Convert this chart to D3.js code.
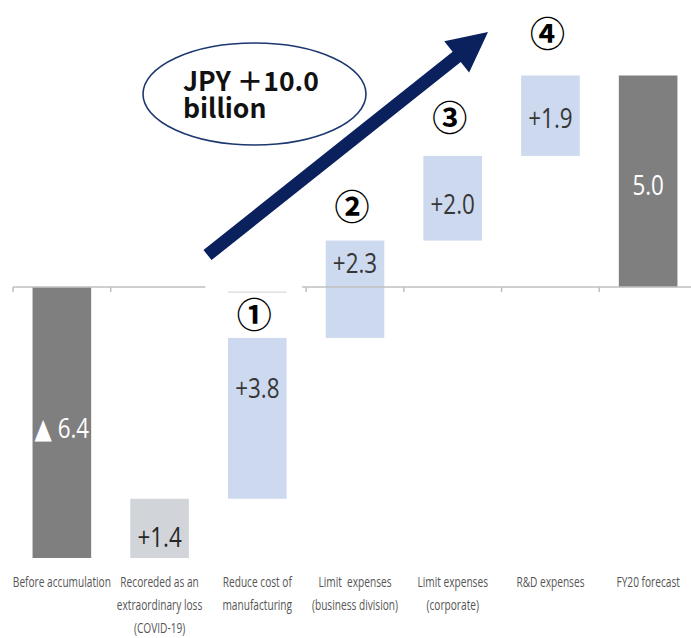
<!DOCTYPE html>
<html>
<head>
<meta charset="utf-8">
<script src="https://cdn.jsdelivr.net/npm/d3@7"></script>
<style>
  body { margin: 0; background: #fff; }
  svg { display: block; }
  .cat { white-space: pre; }
</style>
</head>
<body>
<svg id="chart" width="691" height="638"></svg>
<script>
// Operating profit bridge (JPY billion)
const categories = [
  ["Before accumulation"],
  ["Recoreded as an", "extraordinary loss", "(COVID-19)"],
  ["Reduce cost of", "manufacturing"],
  ["Limit  expenses", "(business division)"],
  ["Limit expenses", "(corporate)"],
  ["R&D expenses"],
  ["FY20 forecast"]
];
const values = [-6.4, 1.4, 3.8, 2.3, 2.0, 1.9, 5.0];
const kinds = ["total", "adjust", "saving", "saving", "saving", "saving", "total"];
const valueLabels = ["▲ 6.4", "+1.4", "+3.8", "+2.3", "+2.0", "+1.9", "5.0"];
const stepMarks = ["①", "②", "③", "④"];
const calloutLines = ["JPY ＋10.0", "billion"];

// running totals for the waterfall
let running = 0;
const bars = values.map((v, i) => {
  let from, to;
  if (kinds[i] === "total") { from = 0; to = v; running = v; }
  else { from = running; to = running + v; running = to; }
  return { i, v, from, to, kind: kinds[i], label: valueLabels[i], cat: categories[i] };
});

const W = 691, H = 638;
const svg = d3.select("#chart");
svg.append("rect").attr("width", W).attr("height", H).attr("fill", "#fff");

const x = d3.scaleBand()
  .domain(d3.range(categories.length))
  .range([13, 697])
  .paddingInner(0.4)
  .paddingOuter(0.2);

const lo = d3.min(bars, d => Math.min(d.from, d.to));
const hi = d3.max(bars, d => Math.max(d.from, d.to));
const y = d3.scaleLinear().domain([lo, hi]).range([558, 75.5]);

const fills = { total: "#7f7f7f", adjust: "#d1d4d8", saving: "#cdd9ee" };
const textFill = { total: "#ffffff", adjust: "#262626", saving: "#363636" };
// vertical nudge of the value text relative to the bar centre
const labelNudge = [4, 8, -31, -27, 5, 1.5, 3];

// bars
svg.append("g").selectAll("rect")
  .data(bars)
  .join("rect")
  .attr("x", d => x(d.i))
  .attr("width", x.bandwidth())
  .attr("y", d => y(Math.max(d.from, d.to)))
  .attr("height", d => Math.abs(y(d.from) - y(d.to)))
  .attr("fill", d => fills[d.kind]);

// zero line with category boundary ticks
const y0 = y(0);
const step = x.step();
const start = x.range()[0];
const axis = svg.append("g").attr("stroke", "#bfbfbf").attr("stroke-width", 1.5);
axis.append("line").attr("x1", start).attr("x2", W).attr("y1", y0).attr("y2", y0);
axis.selectAll("line.tick")
  .data(d3.range(categories.length + 1))
  .join("line")
  .attr("class", "tick")
  .attr("x1", i => start + i * step).attr("x2", i => start + i * step)
  .attr("y1", y0).attr("y2", y0 + 5);

// white panel behind marker ① with its own short rule
svg.append("rect")
  .attr("x", start + 2 * step - 3).attr("width", step - 1)
  .attr("y", y0 - 3).attr("height", 9)
  .attr("fill", "#fff");
svg.append("line")
  .attr("x1", x(2)).attr("x2", x(2) + x.bandwidth())
  .attr("y1", y0 + 5).attr("y2", y0 + 5)
  .attr("stroke", "#d9d9d9").attr("stroke-width", 1.2);

// value labels
svg.append("g").selectAll("text")
  .data(bars)
  .join("text")
  .attr("transform", d => {
    const cx = x(d.i) + x.bandwidth() / 2;
    const cy = (y(d.from) + y(d.to)) / 2 + labelNudge[d.i];
    return `translate(${cx},${cy}) scale(0.8,1)`;
  })
  .attr("text-anchor", "middle")
  .attr("dominant-baseline", "central")
  .attr("font-family", "'Open Sans', 'DejaVu Sans', sans-serif")
  .attr("font-weight", 400)
  .attr("font-size", 28)
  .attr("fill", d => textFill[d.kind])
  .text(d => d.label);

// category labels
const catG = svg.append("g");
bars.forEach(d => {
  const cx = x(d.i) + x.bandwidth() / 2;
  d.cat.forEach((line, k) => {
    catG.append("text")
      .attr("class", "cat")
      .attr("transform", `translate(${cx},${587 + k * 23}) scale(0.7,1)`)
      .attr("text-anchor", "middle")
      .attr("font-family", "'Open Sans', sans-serif")
      .attr("font-size", 14.5)
      .attr("fill", "#555")
      .text(line);
  });
});

// circled step numbers above the saving bars
const savings = bars.filter(d => d.kind === "saving");
const markLift = [25, 36, 40, 44];
svg.append("g").selectAll("text")
  .data(savings)
  .join("text")
  .attr("x", d => x(d.i) + x.bandwidth() / 2 - 3)
  .attr("y", (d, k) => y(d.to) - markLift[k])
  .attr("text-anchor", "middle")
  .attr("dominant-baseline", "central")
  .attr("font-family", "'Noto Sans CJK JP', sans-serif")
  .attr("font-weight", 700)
  .attr("font-size", 35)
  .attr("fill", "#000")
  .text((d, k) => stepMarks[k]);

// rising arrow
const navy = "#0a215e";
const tail = [207.5, 255], tip = [488, 32];
const dx = tip[0] - tail[0], dy = tip[1] - tail[1];
const len = Math.hypot(dx, dy);
const ux = dx / len, uy = dy / len;
const nx = -uy, ny = ux;
const shaftHalf = 6.5, headLen = 40, headHalf = 20;
const bx = tip[0] - ux * headLen, by = tip[1] - uy * headLen;
const pts = [
  [tail[0] + nx * shaftHalf, tail[1] + ny * shaftHalf],
  [bx + nx * shaftHalf, by + ny * shaftHalf],
  [bx + nx * headHalf, by + ny * headHalf],
  tip,
  [bx - nx * headHalf, by - ny * headHalf],
  [bx - nx * shaftHalf, by - ny * shaftHalf],
  [tail[0] - nx * shaftHalf, tail[1] - ny * shaftHalf]
];
svg.append("path")
  .attr("d", d3.line()(pts) + "Z")
  .attr("fill", navy);

// callout
svg.append("ellipse")
  .attr("cx", 254.5).attr("cy", 94)
  .attr("rx", 111.5).attr("ry", 51)
  .attr("fill", "#fff")
  .attr("stroke", "#1c3770")
  .attr("stroke-width", 1.6);
svg.append("text")
  .attr("font-family", "'Noto Sans CJK JP', 'Noto Sans', sans-serif")
  .attr("font-weight", 700)
  .attr("font-size", 26.5)
  .attr("fill", "#111")
  .selectAll("tspan")
  .data(calloutLines)
  .join("tspan")
  .attr("x", 183)
  .attr("y", (d, k) => 91 + k * 27)
  .text(d => d);
</script>
</body>
</html>
